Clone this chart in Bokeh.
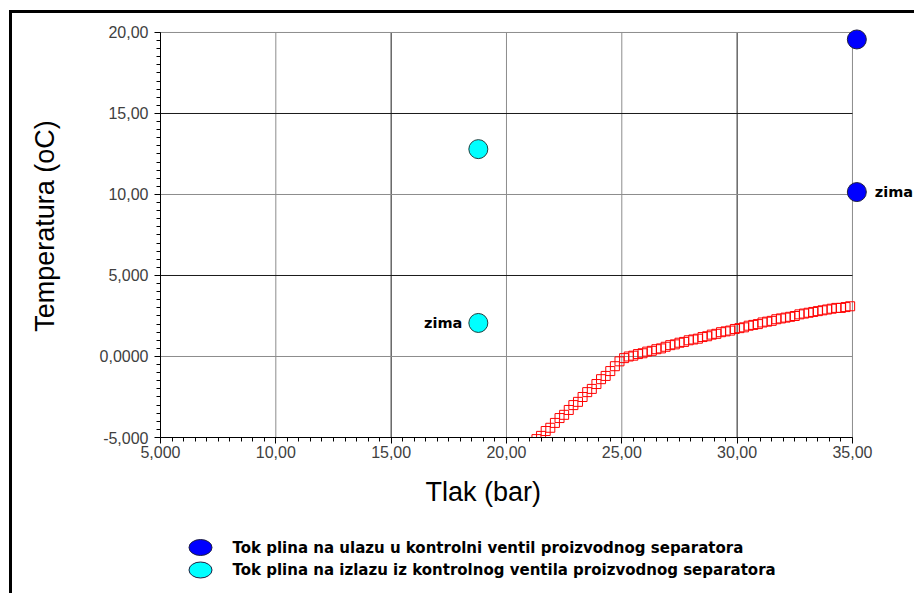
from bokeh.plotting import figure
from bokeh.models import Range1d, SingleIntervalTicker, Title
from bokeh.layouts import column
from bokeh.embed import file_html
from bokeh.resources import INLINE
from bokeh.core.properties import value

# ---------------- data ----------------
ulaz_p = [35.19, 35.19]          # Tok plina na ulazu (blue)
ulaz_t = [19.57, 10.15]
izlaz_p = [18.78, 18.78]         # Tok plina na izlazu (cyan)
izlaz_t = [12.80, 2.07]

hyd_p = [21.3, 21.5, 21.7, 21.9, 22.1, 22.3, 22.5, 22.7, 22.9, 23.1, 23.3, 23.5,
         23.7, 23.9, 24.1, 24.3, 24.5, 24.7, 24.9, 25.1, 25.3, 25.5, 25.7, 25.9,
         26.1, 26.3, 26.5, 26.7, 26.9, 27.1, 27.3, 27.5, 27.7, 27.9, 28.1, 28.3,
         28.5, 28.7, 28.9, 29.1, 29.3, 29.5, 29.7, 29.9, 30.1, 30.3, 30.5, 30.7,
         30.9, 31.1, 31.3, 31.5, 31.7, 31.9, 32.1, 32.3, 32.5, 32.7, 32.9, 33.1,
         33.3, 33.5, 33.7, 33.9, 34.1, 34.3, 34.5, 34.7, 34.9]
hyd_t = [-5.1, -4.9, -4.6, -4.4, -4.1, -3.8, -3.6, -3.3, -3.0, -2.8, -2.5, -2.2,
         -2.0, -1.7, -1.4, -1.2, -0.9, -0.6, -0.3, -0.1, 0.0, 0.05, 0.15, 0.2,
         0.3, 0.35, 0.45, 0.5, 0.6, 0.7, 0.75, 0.85, 0.9, 1.0, 1.05, 1.1,
         1.2, 1.25, 1.35, 1.4, 1.5, 1.55, 1.6, 1.7, 1.75, 1.8, 1.9, 1.95,
         2.0, 2.1, 2.15, 2.2, 2.3, 2.35, 2.4, 2.45, 2.5, 2.6, 2.65, 2.7,
         2.75, 2.8, 2.85, 2.9, 2.95, 3.0, 3.0, 3.05, 3.1]

x_ticks = [5, 10, 15, 20, 25, 30, 35]
x_tick_labels = ["5,000", "10,00", "15,00", "20,00", "25,00", "30,00", "35,00"]
y_ticks = [-5, 0, 5, 10, 15, 20]
y_tick_labels = ["-5,000", "0,0000", "5,000", "10,00", "15,00", "20,00"]

grid_x_dark = [15, 30]
grid_x_light = [10, 20, 25, 35]
grid_y_dark = [5, 15]
grid_y_light = [0, 10, 20]

legend_labels = ["Tok plina na ulazu u kontrolni ventil proizvodnog separatora",
                 "Tok plina na izlazu iz kontrolnog ventila proizvodnog separatora"]
legend_colors = ["#0000ff", "#00ffff"]
x_label = "Tlak (bar)"
y_label = "Temperatura (oC)"
note = "zima"

# ---------------- main figure ----------------
X0, X1 = x_ticks[0], x_ticks[-1]
Y0, Y1 = y_ticks[0], y_ticks[-1]

p = figure(width=902, height=515, output_backend="svg", toolbar_location=None,
           x_range=Range1d(5, 37.69), y_range=Range1d(-5, 21.11),
           min_border_left=148, min_border_right=0, min_border_top=1,
           min_border_bottom=91)
p.grid.visible = False
p.outline_line_color = None
p.background_fill_color = "white"
p.border_fill_color = "white"

# grid lines (bounded to the axis extent)
for xs, col in ((grid_x_light, "#8c8c8c"), (grid_x_dark, "#1a1a1a")):
    p.segment(x0=xs, y0=[Y0] * len(xs), x1=xs, y1=[Y1] * len(xs),
              line_color=col, line_width=1)
for ys, col in ((grid_y_light, "#8c8c8c"), (grid_y_dark, "#1a1a1a")):
    p.segment(x0=[X0] * len(ys), y0=ys, x1=[X1] * len(ys), y1=ys,
              line_color=col, line_width=1)

# axes
for ax, ticks, labels in ((p.xaxis[0], x_ticks, x_tick_labels),
                          (p.yaxis[0], y_ticks, y_tick_labels)):
    ax.ticker = SingleIntervalTicker(interval=5, num_minor_ticks=10)
    ax.bounds = (ticks[0], ticks[-1])
    ax.major_label_overrides = {t: l for t, l in zip(ticks, labels)}
    ax.major_label_text_font = "Liberation Sans"
    ax.major_label_text_font_size = "16px"
    ax.major_label_text_color = "#404040"
    ax.axis_line_color = "black"
    ax.major_tick_line_color = "black"
    ax.minor_tick_line_color = "black"
    ax.major_tick_out = 6
    ax.major_tick_in = 0
    ax.minor_tick_out = 4
    ax.minor_tick_in = 0
    ax.major_label_standoff = 6

p.yaxis[0].axis_label = y_label
p.yaxis[0].axis_label_text_font = "Liberation Sans"
p.yaxis[0].axis_label_text_font_size = "27px"
p.yaxis[0].axis_label_text_font_style = "normal"
p.yaxis[0].axis_label_text_color = "black"
p.yaxis[0].axis_label_standoff = 37
p.xaxis[0].major_label_standoff = 2

xt = Title(text=x_label, align="left", offset=265, standoff=29,
           text_font="Liberation Sans", text_font_size="27px",
           text_font_style="normal", text_color="black")
p.add_layout(xt, "below")

# hydrate curve (red squares)
p.scatter(hyd_p, hyd_t, marker="square", size=9, fill_color=None,
          line_color="red", line_width=1)

# points
p.scatter(ulaz_p, ulaz_t, marker="circle", size=19, fill_color=legend_colors[0],
          line_color="#202040", line_width=1)
p.scatter(izlaz_p, izlaz_t, marker="circle", size=19, fill_color=legend_colors[1],
          line_color="#204040", line_width=1)

p.text(x=[ulaz_p[1]], y=[ulaz_t[1]], text=[note], x_offset=18,
       text_baseline="middle", text_align="left", text_font=value("DejaVu Sans"),
       text_font_style="bold", text_font_size="14.5px", text_color="black")
p.text(x=[izlaz_p[1]], y=[izlaz_t[1]], text=[note], x_offset=-16,
       text_baseline="middle", text_align="right", text_font=value("DejaVu Sans"),
       text_font_style="bold", text_font_size="14.5px", text_color="black")

# ---------------- legend strip (frame aligned with the main plot frame) ----------------
leg = figure(width=902, height=65, output_backend="svg", toolbar_location=None,
             x_range=Range1d(0, 754), y_range=Range1d(65, 0),
             x_axis_type=None, y_axis_type=None,
             min_border_left=148, min_border_right=0, min_border_top=0,
             min_border_bottom=0)
leg.grid.visible = False
leg.outline_line_color = None
leg.border_fill_color = "white"
row_y = [19, 41.5]
leg.ellipse(x=[40, 40], y=row_y, width=23, height=16, fill_color=legend_colors,
            line_color="#202040", line_width=1)
leg.text(x=[72, 72], y=row_y, text=legend_labels, text_baseline="middle",
         text_font=value("DejaVu Sans"), text_font_style="bold",
         text_font_size="15px", text_color="black")

layout = column(p, leg, spacing=0,
                styles={"margin-left": "9px", "margin-top": "10px",
                        "border-left": "3px solid black",
                        "border-top": "3px solid black"})

open("out.html", "w").write(file_html(layout, INLINE))
